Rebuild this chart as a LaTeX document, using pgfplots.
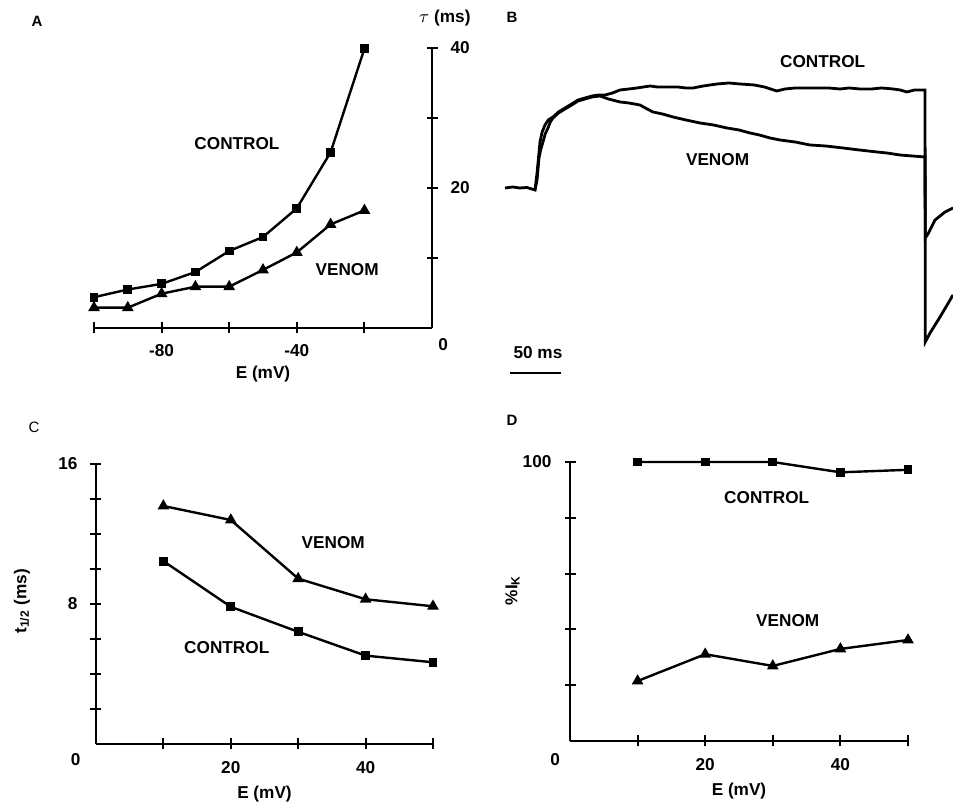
\documentclass[border=0pt]{standalone}
\usepackage{fontspec}
\setmainfont{Liberation Sans}
\usepackage{pgfplots}
\pgfplotsset{compat=1.18}

\pgfplotsset{
  panel/.style={
    scale only axis,
    clip=false,
    font=\bfseries\fontsize{8.6}{10}\selectfont,
    every outer x axis line/.append style={-},
    every outer y axis line/.append style={-},
    axis line style={-, line width=1.1pt},
    tick style={line width=1pt, black},
    tick align=center,
    major tick length=5.5pt,
    xlabel style={at={(axis description cs:0.5,-0.18)}, anchor=center},
  },
  ctl/.style={black, line width=1.2pt, mark=square*, mark size=1.6pt, mark options={solid}},
  ven/.style={black, line width=1.2pt, mark=triangle*, mark size=2.2pt, mark options={solid}},
}

\begin{document}
\begin{tikzpicture}
\path[use as bounding box] (0,0) rectangle (476.5pt,404pt);
\tikzset{lbl/.style={font=\bfseries\fontsize{8.6}{10}\selectfont}}

% ---- A: time constant vs voltage ----
\node[font=\bfseries\fontsize{7.5}{9}\selectfont] at (18.5pt,393.5pt) {A};
\begin{axis}[panel,
  at={(47pt,240pt)}, anchor=south west, width=169pt, height=140pt,
  xmin=-100, xmax=0, ymin=0, ymax=40,
  axis x line=bottom, axis y line=right,
  axis line style={-},
  xtick={-100,-80,-60,-40,-20}, xticklabels={,-80,,-40,},
  ytick={10,20,30,40}, yticklabels={,20,,40},
  xticklabel style={yshift=-2pt}, yticklabel style={xshift=3pt},
  xlabel={E (mV)},
  xlabel style={at={(axis description cs:0.5,-0.165)}},
]
\addplot[ctl] coordinates {
  (-100,4.4)(-90,5.5)(-80,6.3)(-70,8.0)(-60,11.0)(-50,13.0)(-40,17.1)(-30,25.1)(-20,39.9)
};
\addplot[ven] coordinates {
  (-100,2.9)(-90,2.9)(-80,4.9)(-70,5.9)(-60,5.9)(-50,8.3)(-40,10.8)(-30,14.8)(-20,16.8)
};
\node[lbl] at (axis cs:-57.7,26.4) {CONTROL};
\node[lbl] at (axis cs:-25.1,8.3) {VENOM};
\node[lbl] at (axis cs:3.3,-2.4) {0};
\node[lbl] at (axis cs:3.8,44.3) {$\tau$ (ms)};
\end{axis}

% ---- B: current traces ----
\node[font=\bfseries\fontsize{7.5}{9}\selectfont] at (256pt,395.5pt) {B};
\begin{axis}[panel,
  at={(239.96pt,230pt)}, anchor=south west, width=236.64pt, height=150pt,
  xmin=-54, xmax=410, ymin=-16, ymax=14,
  hide axis,
]
% control trace (ms, arbitrary current units)
\addplot[black, line width=1.4pt] coordinates {
  (-29.4,0)(-22,0.1)(-15,0)(-8,0.05)(0,-0.2)(2,1.5)(4.9,4.6)(7,5.6)(9.8,6.3)(13,6.8)
  (17.6,7.1)(23,7.6)(29.4,8.0)(36,8.4)(42.2,8.8)(49,9.0)(55.9,9.2)(62,9.3)(68.6,9.3)
  (76,9.5)(83.3,9.8)(92,9.9)(100,10.0)(112.7,10.2)(120,10.1)(129.4,10.1)(140,10.1)
  (148,10.0)(154.9,10.0)(165,10.2)(178.4,10.4)(190,10.5)(201,10.4)(215,10.3)(225,10.1)
  (237,9.7)(245,9.9)(255,10.0)(262,10.0)(276.5,10.0)(288,10.0)(299,9.9)(308,10.0)
  (318.6,9.9)(330,9.9)(340,10.0)(351,9.9)(358,9.8)(364.7,9.6)(372,9.8)(382.4,9.8)
  (382.6,-15.4)(387.3,-14.5)(397.1,-12.9)(409.8,-10.7)
};
% venom trace
\addplot[black, line width=1.4pt] coordinates {
  (0,-0.2)(2,0.8)(3.9,3.0)(5.5,3.8)(7.8,4.6)(10,5.4)(12.7,6.0)(15,6.6)(17.6,7.0)
  (23,7.5)(29.4,7.9)(36,8.3)(42.2,8.7)(49,8.9)(55.9,9.1)(63.7,9.2)(72,8.9)(83.3,8.6)
  (92,8.5)(102.9,8.3)(110,7.9)(115.7,7.6)(125,7.4)(135.3,7.1)(148,6.8)(161.8,6.5)
  (175,6.3)(188.2,6.0)(200,5.8)(210.8,5.5)(220,5.3)(230.4,5.0)(240.2,4.8)(255,4.6)
  (269.6,4.3)(285,4.2)(302,4.0)(318,3.8)(335.3,3.6)(345,3.5)(357.8,3.3)(370,3.2)
  (382.4,3.1)(382.6,-5.0)(385.3,-4.6)(392.2,-3.2)(402,-2.4)(409.8,-2.0)
};
\node[lbl] at (axis cs:282,12.6) {CONTROL};
\node[lbl] at (axis cs:179,2.8) {VENOM};
\node[lbl] at (axis cs:2.9,-16.5) {50 ms};
\draw[line width=1pt] (axis cs:-25,-18.5) -- (axis cs:25,-18.5);
\end{axis}

% ---- C: half time vs voltage ----
\node[font=\fontsize{7.5}{9}\selectfont] at (17pt,190.5pt) {C};
\begin{axis}[panel,
  at={(48pt,32pt)}, anchor=south west, width=168.5pt, height=140pt,
  xmin=0, xmax=50, ymin=0, ymax=16,
  axis x line=bottom, axis y line=left,
  axis line style={-},
  xtick={10,20,30,40,50}, xticklabels={,20,,40,},
  ytick={2,4,6,8,10,12,14,16}, yticklabels={,,,8,,,,16},
  xticklabel style={yshift=-2.5pt}, yticklabel style={xshift=-3pt},
  xlabel={E (mV)},
  ylabel={t\textsubscript{1/2} (ms)},
  ylabel style={at={(axis description cs:-0.22,0.51)}, anchor=center},
]
\addplot[ven] coordinates {(10,13.6)(20,12.8)(30,9.45)(40,8.27)(50,7.87)};
\addplot[ctl] coordinates {(10,10.45)(20,7.84)(30,6.41)(40,5.05)(50,4.67)};
\node[lbl] at (axis cs:35.2,11.5) {VENOM};
\node[lbl] at (axis cs:19.4,5.5) {CONTROL};
\node[lbl] at (axis cs:-3.0,-0.9) {0};
\end{axis}

% ---- D: percent IK vs voltage ----
\node[font=\bfseries\fontsize{7.5}{9}\selectfont] at (256pt,194pt) {D};
\begin{axis}[panel,
  at={(285pt,33.5pt)}, anchor=south west, width=169pt, height=139.5pt,
  xmin=0, xmax=50, ymin=0, ymax=100,
  axis x line=bottom, axis y line=left,
  axis line style={-},
  xtick={10,20,30,40,50}, xticklabels={,20,,40,},
  ytick={20,40,60,80,100}, yticklabels={,,,,100},
  xticklabel style={yshift=-2.5pt}, yticklabel style={xshift=-3pt},
  xlabel={E (mV)},
  ylabel={\%I\textsubscript{K}},
  ylabel style={at={(axis description cs:-0.17,0.54)}, anchor=center},
]
\addplot[ctl] coordinates {(10,100)(20,100)(30,100)(40,96.3)(50,97.2)};
\addplot[ven] coordinates {(10,21.5)(20,31.1)(30,26.9)(40,33.0)(50,36.2)};
\node[lbl] at (axis cs:29.1,87.1) {CONTROL};
\node[lbl] at (axis cs:32.2,43.0) {VENOM};
\node[lbl] at (axis cs:-2.2,-6.8) {0};
\end{axis}
\end{tikzpicture}
\end{document}
